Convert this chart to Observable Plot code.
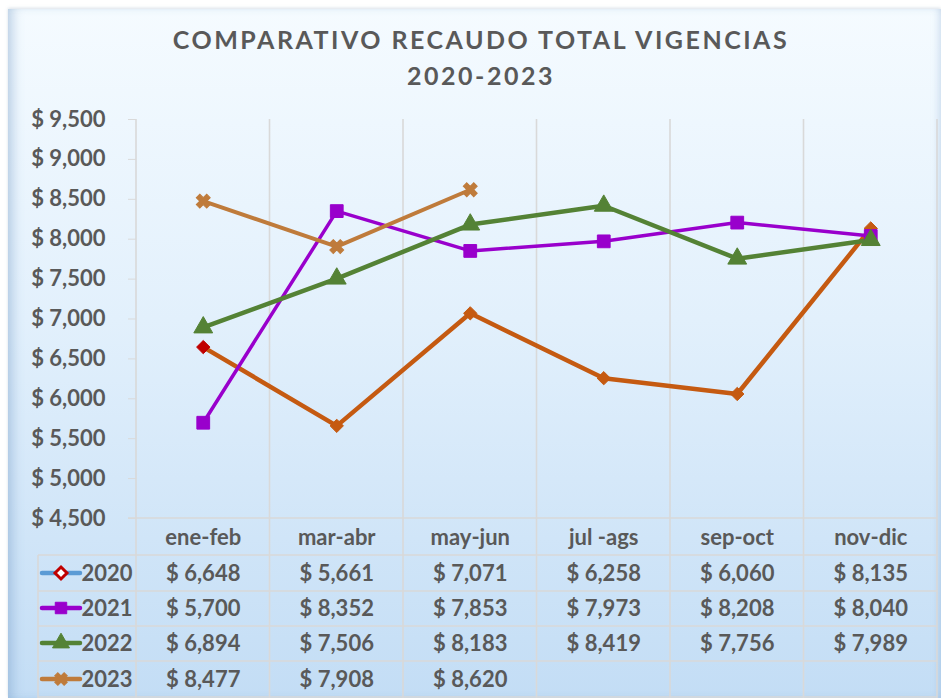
<!DOCTYPE html>
<html><head><meta charset="utf-8">
<script src="https://cdn.jsdelivr.net/npm/d3@7"></script>
<script src="https://cdn.jsdelivr.net/npm/@observablehq/plot@0.6"></script>
<style>
body{margin:0;background:#fff;}
#wrap{position:relative;width:941px;height:698px;overflow:hidden;font-family:Lato,"Open Sans",sans-serif;}
#bg{position:absolute;left:8px;top:9px;right:0;bottom:0;background:linear-gradient(#f5fbff 0%,#e2f0fc 45%,#c3ddf5 100%);box-shadow: inset 10px 0 12px -6px rgba(110,150,195,0.45), inset -6px 0 8px -5px rgba(110,150,195,0.35), 0 -1px 3px rgba(150,170,190,0.35);}
#wrap svg{position:absolute;left:0;top:0;}
</style></head><body>
<div id="wrap"><div id="bg"></div></div>
<script>
const categories = ["ene-feb", "mar-abr", "may-jun", "jul -ags", "sep-oct", "nov-dic"];
const years = ["2020", "2021", "2022", "2023"];
const v2020 = [6648, 5661, 7071, 6258, 6060, 8135];
const v2021 = [5700, 8352, 7853, 7973, 8208, 8040];
const v2022 = [6894, 7506, 8183, 8419, 7756, 7989];
const v2023 = [8477, 7908, 8620];
const yTicks = [4500, 5000, 5500, 6000, 6500, 7000, 7500, 8000, 8500, 9000, 9500];
const titleLines = ["COMPARATIVO RECAUDO TOTAL VIGENCIAS", "2020-2023"];

const seriesValues = [v2020, v2021, v2022, v2023];
const lineColors = ["#C55A11", "#9900CC", "#548235", "#BF7B3B"];
const legendLineColors = ["#5B9BD5", "#9900CC", "#548235", "#BF7B3B"];
const symbols = ["diamond2", "square", "triangle", "cross"];
const radii = [6, 7.2, 7, 6.2];
const widths = [4.5, 3.5, 4.5, 4];

const fmt = v => "$ " + d3.format(",")(v);
const textColor = "#595959";
const gridColor = "#d9d9d9";
const font = 22;

const series = years.map((year, s) => ({
  year,
  points: seriesValues[s].map((value, i) => ({year, i, cat: categories[i], value}))
}));

const marks = [];
titleLines.forEach((t, k) => {
  marks.push(Plot.text([t], {frameAnchor: "top", dx: -56, dy: k === 0 ? -79 : -43, text: d => d, fontSize: 25, fontWeight: "bold", fill: textColor, lineAnchor: "middle"}));
});
marks.push(Plot.axisY({ticks: yTicks, tickFormat: fmt, tickSize: 8, tickPadding: 23, stroke: gridColor, color: textColor, fontSize: font, fontWeight: "bold", label: null}));

series.forEach((s, k) => {
  marks.push(Plot.line(s.points, {x: d => d.i + 0.5, y: "value", stroke: lineColors[k], strokeWidth: widths[k], strokeLinejoin: "round"}));
});
series.forEach((s, k) => {
  marks.push(Plot.dot(s.points, {
    x: d => d.i + 0.5, y: "value", symbol: () => symbols[k], r: radii[k],
    fill: d => (k === 0 && d.i === 0) ? "#C00000" : lineColors[k],
    stroke: d => (k === 0 && d.i === 0) ? "#C00000" : lineColors[k], strokeWidth: 1,
    rotate: k === 3 ? 45 : 0
  }));
});

const rowOffsets = [55, 90, 125, 161];
marks.push(Plot.text(categories, {x: (d, i) => i + 0.5, frameAnchor: "bottom", dy: 19, text: d => d, fontSize: font, fontWeight: "bold", fill: textColor, lineAnchor: "middle"}));
series.forEach((s, k) => {
  marks.push(Plot.text(s.points, {x: d => d.i + 0.5, frameAnchor: "bottom", dy: rowOffsets[k], text: d => fmt(d.value), fontSize: font, fontWeight: "bold", fill: textColor, lineAnchor: "middle"}));
  marks.push(Plot.text([s.year], {frameAnchor: "bottom-left", dx: -55, dy: rowOffsets[k], text: d => d, textAnchor: "start", fontSize: font, fontWeight: "bold", fill: textColor, lineAnchor: "middle"}));
});

const chart = Plot.plot({
  width: 941, height: 698,
  marginTop: 119, marginBottom: 180, marginLeft: 136, marginRight: 4,
  style: {background: "transparent", fontFamily: "Lato, 'Open Sans', sans-serif", overflow: "visible"},
  x: {type: "linear", domain: [0, categories.length], axis: null},
  y: {domain: [yTicks[0], yTicks[yTicks.length - 1]]},
  marks
});
document.getElementById("wrap").appendChild(chart);

const svg = d3.select(chart);
// letter spacing on the title lines
svg.selectAll("text").filter(function() { return titleLines.includes(this.textContent); })
  .attr("letter-spacing", 2.5);

const xs = chart.scale("x"), ys = chart.scale("y");
const xLeft = xs.apply(0), xRight = xs.apply(categories.length);
const yTop = ys.apply(yTicks[yTicks.length - 1]), yBottom = ys.apply(yTicks[0]);
const legendLeft = xLeft - 98;
const rowLines = [yBottom + 37, yBottom + 73, yBottom + 108, yBottom + 143, yBottom + 179];
const g = svg.insert("g", ":first-child").attr("stroke", gridColor).attr("stroke-width", 1.6);
d3.range(categories.length + 1).forEach(i => {
  g.append("line").attr("x1", xs.apply(i)).attr("x2", xs.apply(i)).attr("y1", yTop).attr("y2", 698);
});
g.append("line").attr("x1", xLeft - 8).attr("x2", xRight).attr("y1", yBottom).attr("y2", yBottom);
rowLines.forEach(y => g.append("line").attr("x1", legendLeft).attr("x2", xRight).attr("y1", y).attr("y2", y));
g.append("line").attr("x1", legendLeft).attr("x2", legendLeft).attr("y1", rowLines[0]).attr("y2", 698);

const lg = svg.append("g");
years.forEach((y, k) => {
  const cy = yBottom + rowOffsets[k];
  lg.append("line").attr("x1", legendLeft + 4).attr("x2", legendLeft + 42).attr("y1", cy).attr("y2", cy)
    .attr("stroke", legendLineColors[k]).attr("stroke-width", 4.5).attr("stroke-linecap", "round");
});
const symMap = {diamond2: d3.symbolDiamond2, square: d3.symbolSquare, triangle: d3.symbolTriangle, cross: d3.symbolCross};
years.forEach((y, k) => {
  const cy = yBottom + rowOffsets[k];
  const r = radii[k] * 0.9;
  lg.append("path").attr("d", d3.symbol(symMap[symbols[k]], Math.PI * r * r)())
    .attr("transform", `translate(${legendLeft + 23},${cy}) rotate(${k === 3 ? 45 : 0})`)
    .attr("fill", k === 0 ? "#ffffff" : lineColors[k])
    .attr("stroke", k === 0 ? "#C00000" : lineColors[k]).attr("stroke-width", k === 0 ? 3 : 1);
});
</script>
</body></html>
